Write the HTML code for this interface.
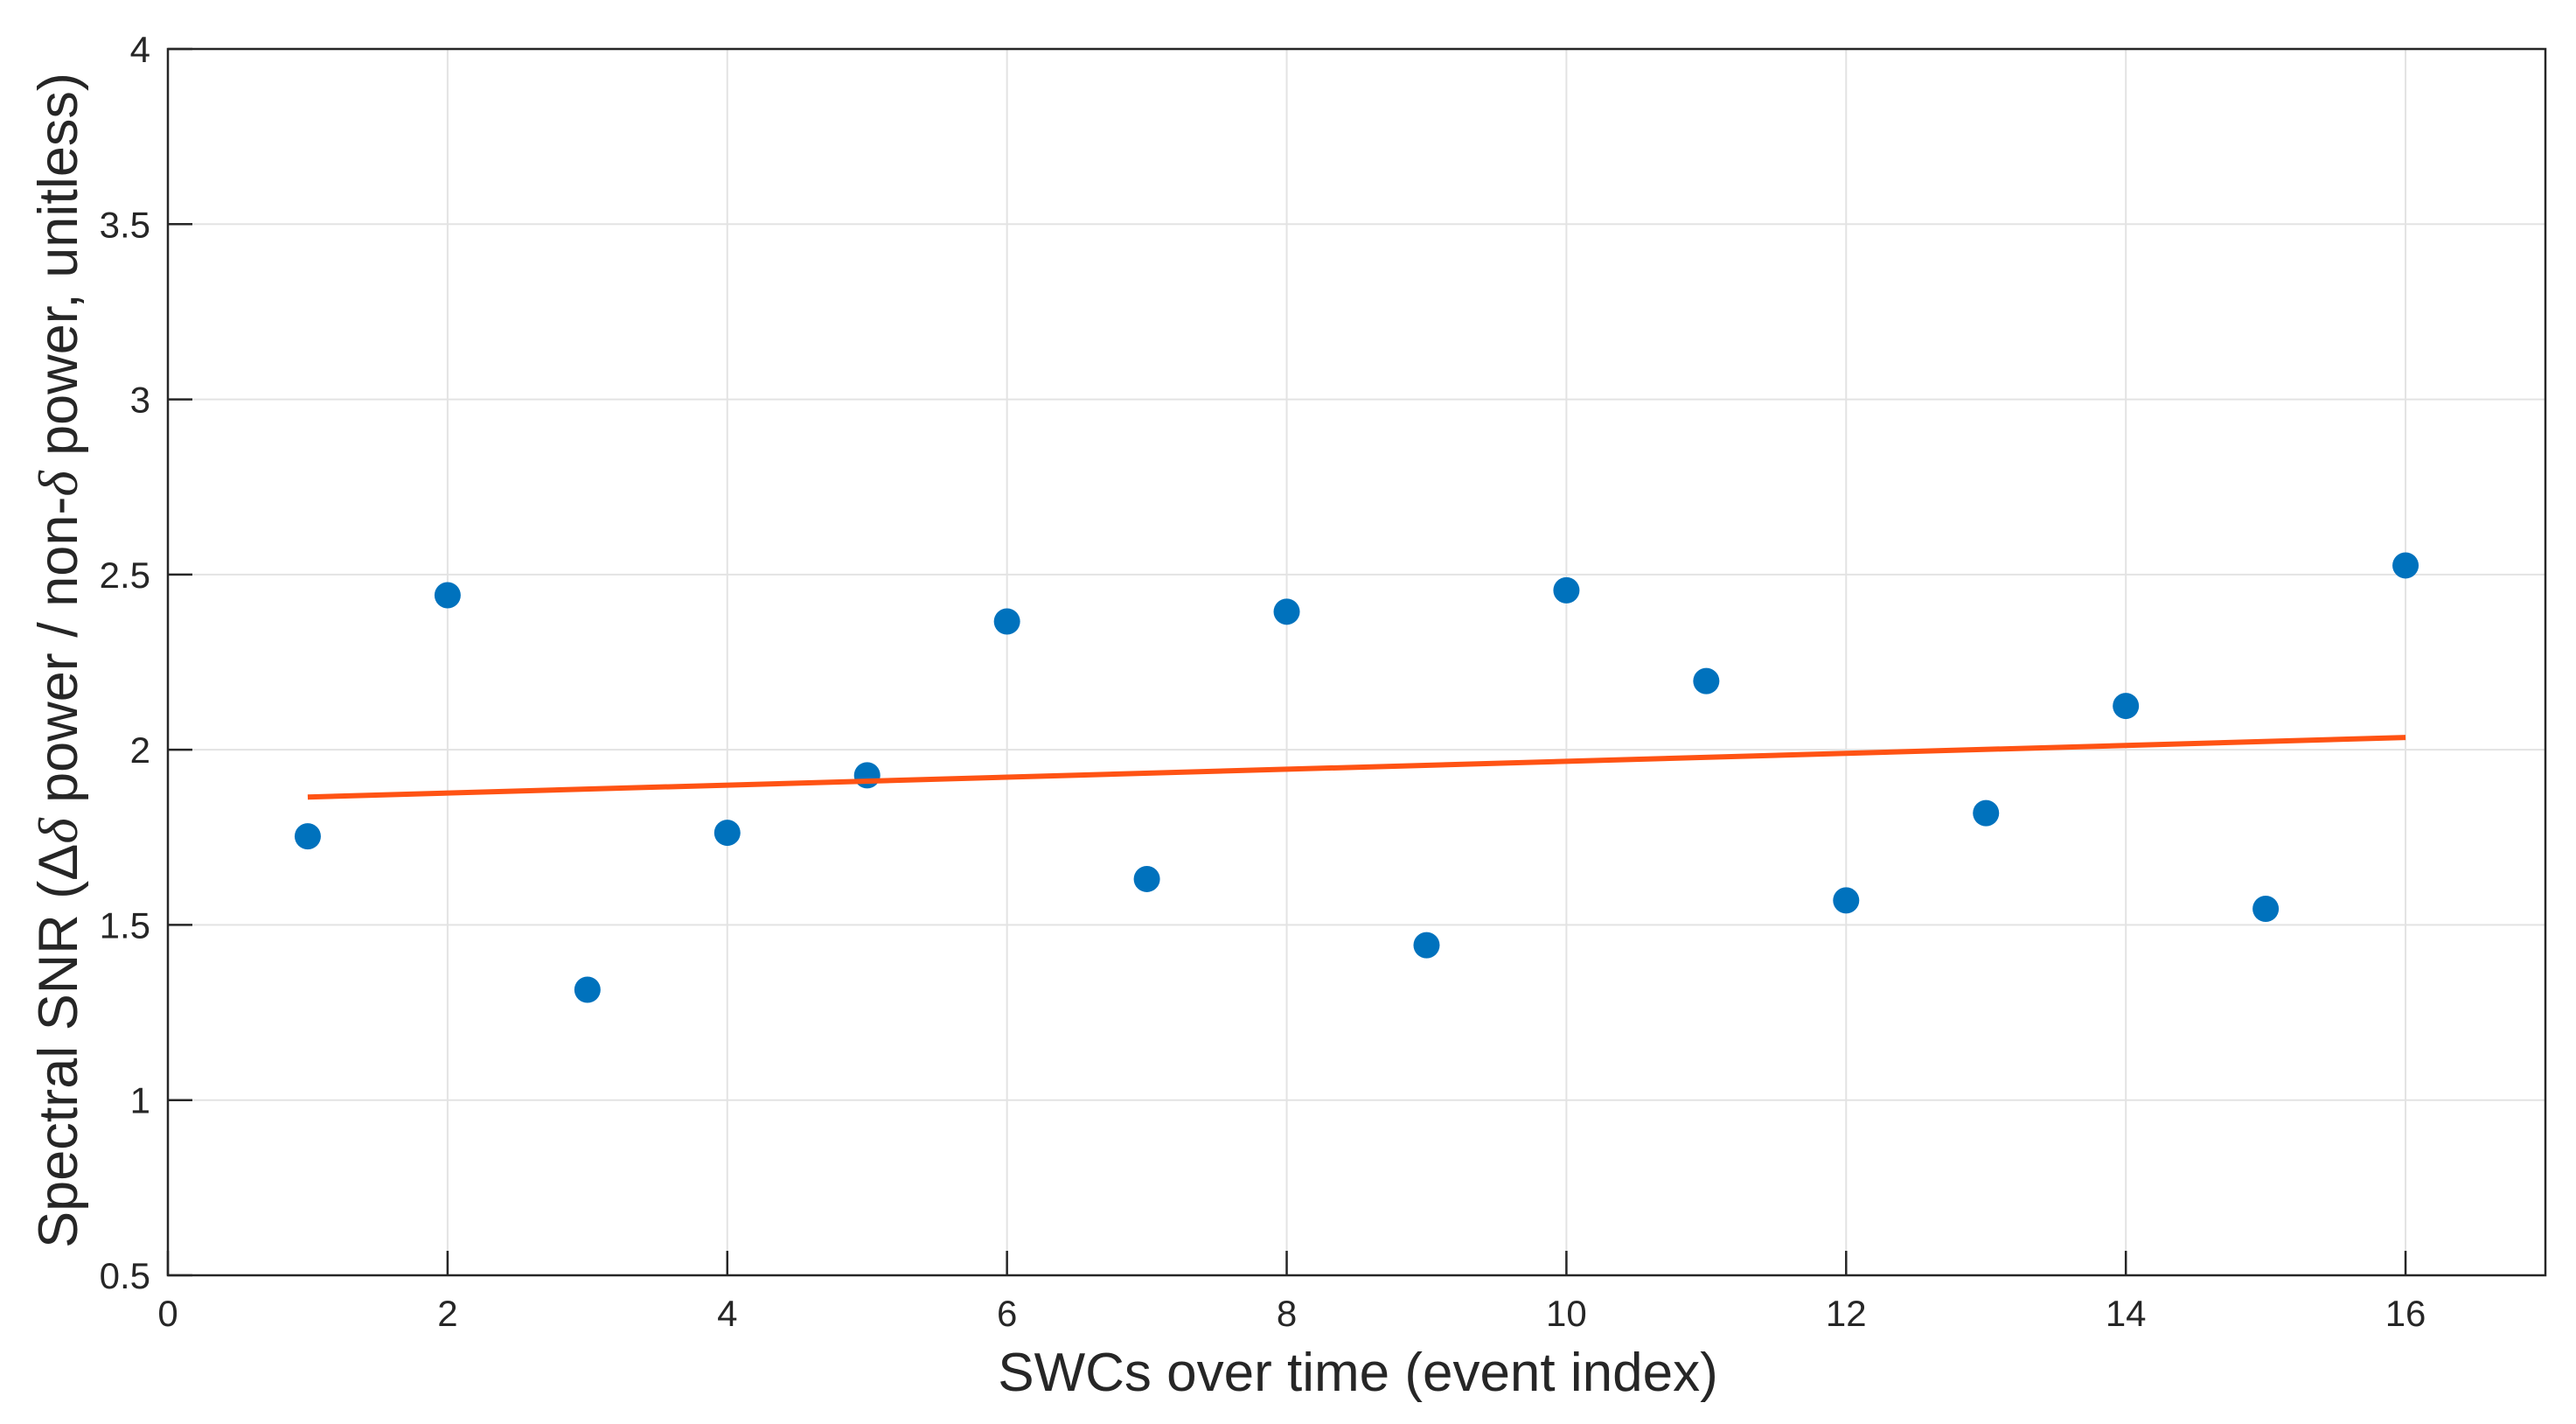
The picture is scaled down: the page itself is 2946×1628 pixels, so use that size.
<!DOCTYPE html>
<html><head><meta charset="utf-8"><style>
html,body{margin:0;padding:0;background:#fff;}
svg{display:block;font-family:"Liberation Sans",Arial,sans-serif;}
</style></head><body>
<svg id="chart" width="2946" height="1628" viewBox="0 0 2946 1628" xmlns="http://www.w3.org/2000/svg">
<rect width="2946" height="1628" fill="#fff"/>
<g id="grid"></g>
<g id="ticks"></g>
<g id="series"></g>
<rect x="192" y="56" width="2719" height="1402" fill="none" stroke="#262626" stroke-width="2.5"/>
<text x="1553" y="1590" font-size="62" text-anchor="middle" fill="#262626">SWCs over time (event index)</text>
<text transform="translate(88,755) rotate(-90)" font-size="63" text-anchor="middle" fill="#262626">Spectral SNR (Δ<tspan font-style="italic" font-family="Liberation Serif, serif">δ</tspan> power / non-<tspan font-style="italic" font-family="Liberation Serif, serif">δ</tspan> power, unitless)</text>
</svg>
<script>
const xTicks = [0,2,4,6,8,10,12,14,16];
const yTicks = [0.5,1,1.5,2,2.5,3,3.5,4];
const yTickLabels = ["0.5","1","1.5","2","2.5","3","3.5","4"];
const eventIndex = [1,2,3,4,5,6,7,8,9,10,11,12,13,14,15,16];
const snrValues = [1.753,2.441,1.315,1.763,1.927,2.366,1.631,2.394,1.442,2.455,2.196,1.570,1.819,2.125,1.546,2.526];
const fitX = [1,16];
const fitY = [1.865,2.035];

const X0=192,X1=2911,Y0=1458,Y1=56;
const xMin=0,xMax=17,yMin=0.5,yMax=4;
function sx(v){return X0+(v-xMin)/(xMax-xMin)*(X1-X0);}
function sy(v){return Y0-(v-yMin)/(yMax-yMin)*(Y0-Y1);}
const NS="http://www.w3.org/2000/svg";
function mk(tag,attrs,parent){const e=document.createElementNS(NS,tag);for(const k in attrs)e.setAttribute(k,attrs[k]);parent.appendChild(e);return e;}
const grid=document.getElementById('grid'),ticks=document.getElementById('ticks'),series=document.getElementById('series');

xTicks.forEach(t=>{
  const x=sx(t);
  if(t>xMin){const g=mk('line',{x1:x,x2:x,y1:Y1,y2:Y0,stroke:'#e3e3e3','stroke-width':2},grid);
  
  }
  const tk=mk('line',{x1:x,x2:x,y1:Y0,y2:Y0-28,stroke:'#262626','stroke-width':2.5},ticks);
  
  
  const tl=mk('text',{x:x,y:Y0+58,'font-size':42,'text-anchor':'middle',fill:'#262626'},ticks);
  
  
  tl.textContent=String(t);
});
yTicks.forEach((t,i)=>{
  const y=sy(t);
  if(t>yMin&&t<yMax){const g=mk('line',{x1:X0,x2:X1,y1:y,y2:y,stroke:'#e3e3e3','stroke-width':2},grid);
  
  }
  const tk=mk('line',{x1:X0,x2:X0+28,y1:y,y2:y,stroke:'#262626','stroke-width':2.5},ticks);
  
  
  const tl=mk('text',{x:X0-20,y:y+15,'font-size':42,'text-anchor':'end',fill:'#262626'},ticks);
  
  
  tl.textContent=yTickLabels[i];
});
eventIndex.forEach((v,i)=>{
  const c=mk('circle',{cx:sx(v),cy:sy(snrValues[i]),r:15,fill:'#0072BD'},series);
  
  
});
const fl=mk('line',{x1:sx(fitX[0]),y1:sy(fitY[0]),x2:sx(fitX[1]),y2:sy(fitY[1]),stroke:'#FF5314','stroke-width':6},series);


</script>
</body></html>
